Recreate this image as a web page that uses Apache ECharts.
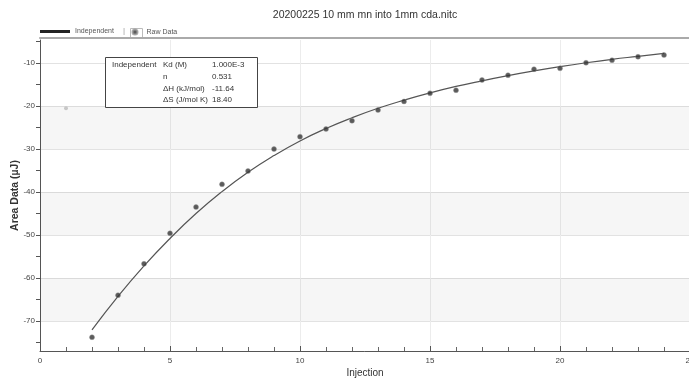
<!DOCTYPE html>
<html>
<head>
<meta charset="utf-8">
<script src="https://cdn.jsdelivr.net/npm/echarts@6/dist/echarts.min.js"></script>
<style>
  html, body {margin: 0; padding: 0; background: #fff;}
  #chart {width: 689px; height: 381px;}
</style>
</head>
<body>
<div id="chart"></div>
<script>
// Raw injection areas (µJ) and the "Independent" model fit.
const injections = [2, 3, 4, 5, 6, 7, 8, 9, 10, 11, 12, 13, 14, 15, 16, 17, 18, 19, 20, 21, 22, 23, 24]
const rawData = [-73.8, -64.0, -56.7, -49.6, -43.5, -38.2, -35.1, -30.0, -27.1, -25.3, -23.4, -20.9,
  -18.9, -17.0, -16.3, -13.9, -12.8, -11.4, -11.2, -9.9, -9.3, -8.5, -8.1]
const fitData = [-72.1, -64.3, -57.2, -50.8, -45.0, -39.9, -35.4, -31.5, -28.1, -25.2, -22.7, -20.5,
  -18.6, -16.9, -15.4, -14.1, -12.9, -11.8, -10.8, -9.9, -9.1, -8.4, -7.7]
// first injection is excluded from the fit (drawn grey)
const excludedPoint = [1, -20.5]

const yLabelValues = [-70, -60, -50, -40, -30, -20, -10]
const yTickValues = [-75, -70, -65, -60, -55, -50, -45, -40, -35, -30, -25, -20, -15, -10, -5]
const bandRanges = [[-30, -20], [-50, -40], [-70, -60]]

const fitLabels = ["Kd (M)", "n", "ΔH (kJ/mol)", "ΔS (J/mol K)"]
const fitValues = ["1.000E-3", "0.531", "-11.64", "18.40"]

const FONT = "Liberation Sans"
const TEXT = "#333"

const chart = echarts.init(document.getElementById("chart"), null, {renderer: "canvas"})

const boxRows = fitLabels.map((label, i) => ({
  type: "text",
  left: 163,
  top: 61 + i * 11.7,
  style: {text: label, font: `8px "${FONT}"`, fill: TEXT},
})).concat(fitValues.map((value, i) => ({
  type: "text",
  left: 212,
  top: 61 + i * 11.7,
  style: {text: value, font: `8px "${FONT}"`, fill: TEXT},
})))

chart.setOption({
  backgroundColor: "#fff",
  animation: false,
  textStyle: {fontFamily: FONT},
  title: {
    text: "20200225 10 mm mn into 1mm cda.nitc",
    left: 360,
    top: 5,
    textAlign: "center",
    textStyle: {fontSize: 10.5, fontWeight: "normal", color: TEXT, fontFamily: FONT},
  },
  legend: [
    {
      left: 40,
      top: 28,
      padding: 0,
      itemWidth: 30,
      itemHeight: 3,
      itemGap: 4,
      data: [{name: "Independent", icon: "rect"}],
      textStyle: {fontSize: 7, color: "#555", padding: [0, 0, 0, 0]},
    },
    {
      left: 131.5,
      top: 28.5,
      padding: 0,
      itemWidth: 5,
      itemHeight: 5,
      data: [{name: "Raw Data", icon: "circle"}],
      textStyle: {fontSize: 7, color: "#555", padding: [0, 0, 0, 4]},
    },
  ],
  graphic: [
    {type: "text", left: 123, top: 27, style: {text: "|", font: `8px "${FONT}"`, fill: "#999"}},
    {type: "rect", left: 128, top: 26, shape: {width: 12, height: 10}, style: {fill: "none", stroke: "#bbb", lineWidth: 1}},
    {type: "rect", left: 105, top: 57, shape: {width: 152, height: 50}, style: {fill: "#fff", stroke: "#444", lineWidth: 1}, z: 10},
    {type: "text", left: 112, top: 61, style: {text: "Independent", font: `8px "${FONT}"`, fill: TEXT}, z: 11},
    ...boxRows.map(r => ({...r, z: 11})),
  ],
  grid: {left: 40, top: 40, width: 650, bottom: 30, outerBoundsMode: "none", containLabel: false},
  xAxis: [
    {
      type: "value",
      min: 0,
      max: 25,
      interval: 5,
      name: "Injection",
      nameLocation: "middle",
      nameGap: 17,
      nameMoveOverlap: false,
      nameTextStyle: {fontSize: 10, color: TEXT},
      axisLine: {lineStyle: {color: "#555", width: 1}},
      axisTick: {inside: true, length: 5, lineStyle: {color: "#555"}},
      minorTick: {show: true, splitNumber: 5, length: 4, lineStyle: {color: "#666"}},
      axisLabel: {fontSize: 8, color: "#444", margin: 6},
      splitLine: {show: true, lineStyle: {color: "#ececec"}},
    },
    {
      type: "value",
      position: "top",
      min: 0,
      max: 25,
      offset: 2,
      axisLine: {show: true, onZero: false, lineStyle: {color: "#aaa", width: 2}},
      axisTick: {show: false},
      axisLabel: {show: false},
      splitLine: {show: false},
    },
  ],
  yAxis: [
    {
      type: "value",
      min: -77,
      max: -4.6,
      name: "Area Data (µJ)",
      nameLocation: "middle",
      nameGap: 19,
      nameMoveOverlap: false,
      nameTextStyle: {fontSize: 10.5, fontWeight: "bold", color: TEXT},
      axisLine: {show: true, onZero: false, lineStyle: {color: "#555"}},
      axisTick: {show: true, length: 4, customValues: yTickValues, lineStyle: {color: "#555"}},
      axisLabel: {fontSize: 8, color: "#444", margin: 5, customValues: yLabelValues},
      splitLine: {show: false},
    },
    {
      type: "value",
      min: -77,
      max: -4.6,
      axisLine: {show: false},
      axisTick: {show: false, customValues: yLabelValues},
      axisLabel: {show: false},
      splitLine: {show: true, lineStyle: {color: "#e2e2e2"}},
    },
  ],
  series: [
    {
      name: "Independent",
      type: "line",
      data: injections.map((x, i) => [x, fitData[i]]),
      smooth: true,
      symbol: "none",
      lineStyle: {color: "#555", width: 1.2},
      itemStyle: {color: "#222"},
      markArea: {
        silent: true,
        itemStyle: {color: "rgba(0,0,0,0.035)"},
        data: bandRanges.map(([a, b]) => [{yAxis: a}, {yAxis: b}]),
      },
      z: 3,
    },
    {
      name: "Raw Data",
      type: "scatter",
      data: injections.map((x, i) => [x, rawData[i]]),
      symbolSize: 5,
      itemStyle: {color: "#333", borderColor: "#999", borderWidth: 0.5},
      z: 4,
    },
    {
      name: "Excluded",
      type: "scatter",
      data: [excludedPoint],
      symbolSize: 4,
      itemStyle: {color: "#bbb"},
      z: 4,
    },
  ],
})
</script>
</body>
</html>
